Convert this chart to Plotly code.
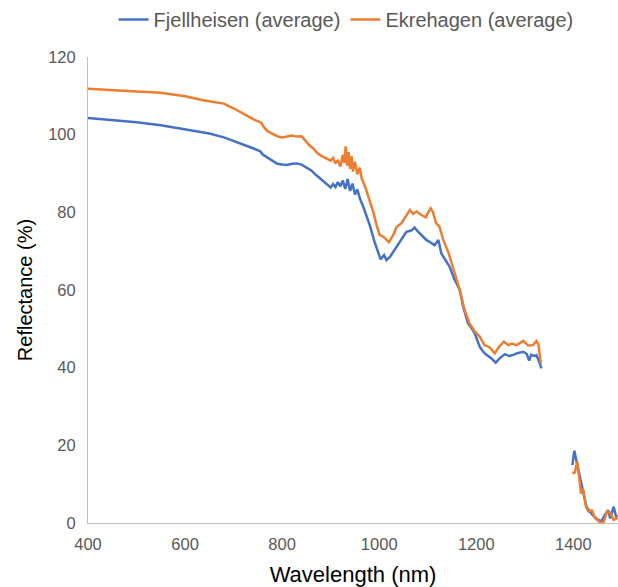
import plotly.graph_objects as go

# Fjellheisen (average)
wl_fjell = [400, 450, 500, 550, 600, 650, 680, 700, 720, 740, 755, 760, 770, 780, 790, 800, 810, 820, 830, 840,
            850, 860, 870, 880, 890, 900, 905, 910, 915, 920, 925, 930, 935, 940, 945, 950, 955, 960, 967, 975,
            981, 990, 995, 1003, 1010, 1015, 1022, 1029, 1039, 1048, 1056, 1066, 1073, 1080, 1090, 1097, 1105,
            1114, 1122, 1128, 1136, 1145, 1155, 1166, 1173, 1183, 1190, 1197, 1207, 1215, 1221, 1230, 1240, 1248,
            1259, 1268, 1276, 1286, 1297, 1304, 1309, 1313, 1320, 1324, 1331, 1334,
            None,
            1398, 1402, 1406, 1412, 1417, 1422, 1427, 1434, 1441, 1451, 1458, 1465, 1472, 1476, 1483, 1489, 1495]
refl_fjell = [104.3, 103.7, 103.2, 102.4, 101.4, 100.3, 99.3, 98.4, 97.4, 96.5, 95.7, 94.9, 94.1, 93.2, 92.5, 92.3,
              92.2, 92.5, 92.6, 92.3, 91.5, 90.8, 89.6, 88.5, 87.5, 86.4, 87.3, 86.5, 87.8, 86.7, 88.2, 86.0, 88.6,
              85.5, 87.4, 84.6, 85.9, 83.6, 81.5, 78.5, 76.5, 72.5, 70.8, 67.9, 69.0, 67.7, 68.5, 69.9, 71.6, 73.5,
              75.0, 75.3, 76.1, 75.0, 73.8, 72.9, 72.3, 71.5, 72.9, 69.4, 67.8, 66.0, 62.8, 60.0, 55.7, 51.4, 50.2,
              48.8, 45.4, 44.0, 43.3, 42.5, 41.3, 42.4, 43.5, 43.0, 43.3, 43.8, 44.1, 43.5, 41.8, 43.3, 43.0, 43.2,
              41.1, 39.8,
              None,
              14.9, 18.6, 16.2, 12.8, 9.8, 6.8, 4.2, 2.9, 1.9, 0.8, 0.5, 2.1, 3.3, 1.2, 4.2, 1.2, 2.0]

# Ekrehagen (average)
wl_ekre = [400, 450, 500, 550, 600, 640, 680, 700, 720, 740, 757, 762, 770, 780, 790, 800, 810, 820, 830, 840,
           845, 855, 864, 872, 880, 890, 900, 905, 910, 915, 920, 925, 928, 931, 934, 937, 940, 943, 946, 950,
           955, 960, 964, 971, 974, 981, 988, 995, 1001, 1010, 1015, 1020, 1029, 1036, 1046, 1053, 1063, 1070,
           1077, 1087, 1096, 1100, 1106, 1111, 1117, 1124, 1132, 1142, 1152, 1166, 1176, 1186, 1197, 1207, 1217,
           1228, 1238, 1247, 1257, 1266, 1273, 1283, 1297, 1307, 1317, 1324, 1328, 1331, 1333,
           None,
           1398, 1403, 1408, 1412, 1416, 1420, 1426, 1431, 1438, 1445, 1455, 1462, 1469, 1476, 1483, 1490, 1495]
refl_ekre = [111.8, 111.4, 111.1, 110.8, 109.9, 108.8, 108.0, 106.8, 105.3, 104.0, 103.1, 102.0, 100.9, 100.2,
             99.6, 99.3, 99.5, 99.8, 99.5, 99.6, 98.9, 97.4, 96.5, 95.3, 94.6, 93.9, 93.3, 94.0, 92.6, 93.5, 91.8,
             94.8, 92.7, 97.0, 92.0, 95.5, 91.2, 94.5, 90.5, 93.0, 89.8, 91.5, 88.7, 86.6, 85.5, 83.0, 80.0, 76.5,
             74.2, 73.6, 73.0, 72.3, 74.2, 76.3, 77.2, 78.5, 80.6, 79.6, 80.2, 79.3, 78.7, 79.8, 81.0, 80.0, 77.2,
             76.3, 72.9, 69.9, 66.0, 60.0, 54.8, 51.4, 49.3, 48.0, 45.8, 45.2, 43.7, 45.4, 46.7, 45.8, 46.2, 45.8,
             46.9, 45.7, 45.8, 46.9, 46.0, 43.7, 41.1,
             None,
             12.8, 13.0, 15.8, 12.0, 7.6, 8.8, 4.2, 3.0, 3.3, 1.2, 0.2, 0.0, 2.9, 2.7, 0.8, 1.2, 2.2]

x_ticks = [400, 600, 800, 1000, 1200, 1400]
y_ticks = [0, 20, 40, 60, 80, 100, 120]

fig = go.Figure()
fig.add_trace(go.Scatter(x=wl_fjell, y=refl_fjell, mode="lines", name="Fjellheisen (average)",
                         line=dict(color="#4472C4", width=2.5)))
fig.add_trace(go.Scatter(x=wl_ekre, y=refl_ekre, mode="lines", name="Ekrehagen (average)",
                         line=dict(color="#ED7D31", width=2.5)))

fig.update_layout(
    width=618, height=587,
    margin=dict(l=88, r=0, t=57, b=64),
    paper_bgcolor="white", plot_bgcolor="white",
    font=dict(family="Liberation Sans, Arial, sans-serif", color="#595959"),
    legend=dict(orientation="h", x=0.487, xanchor="center", y=1.0, yref="container", yanchor="top",
                font=dict(size=20, color="#595959"), itemwidth=30, tracegroupgap=0,
                bgcolor="rgba(0,0,0,0)"),
    showlegend=True,
)
fig.update_xaxes(range=[400, 1492], tickvals=x_ticks, ticktext=[str(v) for v in x_ticks],
                 showgrid=False, zeroline=False, showline=True, linecolor="#bfbfbf", linewidth=1,
                 ticks="", ticklabelstandoff=6, automargin=False,
                 tickfont=dict(size=16.5, color="#595959"),
                 title=dict(text="Wavelength (nm)", font=dict(size=22, color="black"), standoff=16))
fig.update_yaxes(range=[0, 120], tickvals=y_ticks, ticktext=[str(v) for v in y_ticks],
                 showgrid=False, zeroline=False, showline=True, linecolor="#bfbfbf", linewidth=1,
                 ticks="", ticklabelstandoff=8, automargin=False,
                 tickfont=dict(size=16.5, color="#595959"),
                 title=dict(text="Reflectance (%)", font=dict(size=20, color="black"), standoff=10))

fig.write_html("out.html")
